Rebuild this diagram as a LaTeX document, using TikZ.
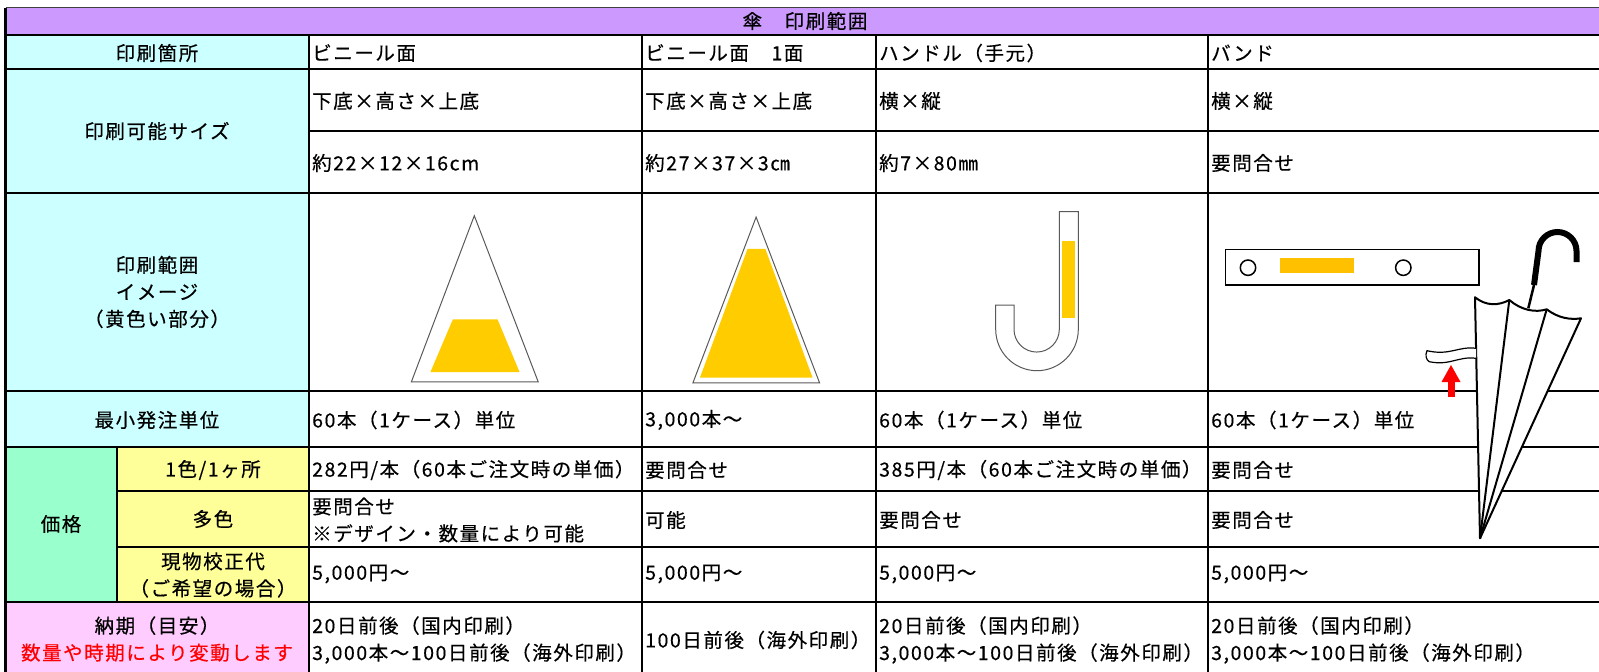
\documentclass[tikz,border=0pt]{standalone}
\usepackage{fontspec}
\newfontfamily\jpfont[LetterSpace=8, FakeBold=0.4]{Noto Sans CJK JP}
\definecolor{titlebg}{HTML}{CC99FF}
\definecolor{headbg}{HTML}{CCFFFF}
\definecolor{pricebg}{HTML}{99FFCC}
\definecolor{subbg}{HTML}{FFFF99}
\definecolor{leadbg}{HTML}{FFCCFF}
\definecolor{printarea}{HTML}{FFCC00}
\definecolor{bandarea}{HTML}{FFC000}
\tikzset{
  grid/.style={line width=2.5pt},
  cell/.style={font=\jpfont\fontsize{19.5}{27}\selectfont, inner sep=0pt, anchor=west, align=left},
  head/.style={font=\jpfont\fontsize{19.5}{27}\selectfont, inner sep=0pt, align=center},
  outline/.style={draw=black!65, line width=1pt},
}
\begin{document}
\begin{tikzpicture}[x=1pt,y=-1pt]
  \useasboundingbox (0,0) rectangle (1599,672);

  % Cell backgrounds
  \fill[titlebg] (5.5,7.5) rectangle (1599,35);
  \fill[headbg] (5.5,35) rectangle (309,447);
  \fill[pricebg] (5.5,447) rectangle (117,602);
  \fill[subbg] (117,447) rectangle (309,602);
  \fill[leadbg] (5.5,602) rectangle (309,672);

  % Grid
  \draw[line width=1.2pt, black!75] (5.5,7.5) -- (1599,7.5);
  \draw[grid] (5.5,7.5) -- (5.5,672);
  \draw[grid] (5.5,35) -- (1599,35);
  \draw[grid] (5.5,69) -- (1599,69);
  \draw[grid] (309,131) -- (1599,131);
  \draw[grid] (5.5,193) -- (1599,193);
  \draw[grid] (5.5,391) -- (1599,391);
  \draw[grid] (5.5,447) -- (1599,447);
  \draw[grid] (117,491) -- (1599,491);
  \draw[grid] (117,547) -- (1599,547);
  \draw[grid] (5.5,602) -- (1599,602);
  \draw[grid] (117,447) -- (117,602);
  \draw[grid] (309,35) -- (309,672);
  \draw[grid] (642,35) -- (642,672);
  \draw[grid] (876,35) -- (876,672);
  \draw[grid] (1208,35) -- (1208,672);

  % Row headings
  \node[head] (title) at (805,21) {傘　印刷範囲};
  \node[head] (h-place) at (157,53) {印刷箇所};
  \node[head] (h-size) at (157,131) {印刷可能サイズ};
  \node[head] (h-image) at (157,292) {印刷範囲\\イメージ\\（黄色い部分）};
  \node[head] (h-moq) at (157,420) {最小発注単位};
  \node[head] (h-price) at (61,524) {価格};
  \node[head] (h-one) at (213,470) {1色/1ヶ所};
  \node[head] (h-multi) at (213,519) {多色};
  \node[head] (h-proof) at (213,575) {現物校正代\\（ご希望の場合）};
  \node[head] (h-lead) at (157,639) {納期（目安）\\\textcolor{red}{数量や時期により変動します}};

  % Column A
  \begin{scope}[shift={(312,0)}]
    \node[cell] (a-place) at (0,53) {ビニール面};
    \node[cell] (a-dim) at (0,101) {下底×高さ×上底};
    \node[cell] (a-size) at (0,163) {約22×12×16cm};
    \node[cell] (a-moq) at (0,420) {60本（1ケース）単位};
    \node[cell] (a-one) at (0,470) {282円/本（60本ご注文時の単価）};
    \node[cell] (a-multi) at (0,520) {要問合せ\\※デザイン・数量により可能};
    \node[cell] (a-proof) at (0,574) {5,000円～};
    \node[cell] (a-lead) at (0,640) {20日前後（国内印刷）\\3,000本～100日前後（海外印刷）};
  \end{scope}

  % Column B
  \begin{scope}[shift={(645,0)}]
    \node[cell] (b-place) at (0,53) {ビニール面　1面};
    \node[cell] (b-dim) at (0,101) {下底×高さ×上底};
    \node[cell] (b-size) at (0,163) {約27×37×3㎝};
    \node[cell] (b-moq) at (0,420) {3,000本～};
    \node[cell] (b-one) at (0,470) {要問合せ};
    \node[cell] (b-multi) at (0,520) {可能};
    \node[cell] (b-proof) at (0,574) {5,000円～};
    \node[cell] (b-lead) at (0,640) {100日前後（海外印刷）};
  \end{scope}

  % Column C
  \begin{scope}[shift={(879,0)}]
    \node[cell] (c-place) at (0,53) {ハンドル（手元）};
    \node[cell] (c-dim) at (0,101) {横×縦};
    \node[cell] (c-size) at (0,163) {約7×80㎜};
    \node[cell] (c-moq) at (0,420) {60本（1ケース）単位};
    \node[cell] (c-one) at (0,470) {385円/本（60本ご注文時の単価）};
    \node[cell] (c-multi) at (0,520) {要問合せ};
    \node[cell] (c-proof) at (0,574) {5,000円～};
    \node[cell] (c-lead) at (0,640) {20日前後（国内印刷）\\3,000本～100日前後（海外印刷）};
  \end{scope}

  % Column D
  \begin{scope}[shift={(1211,0)}]
    \node[cell] (d-place) at (0,53) {バンド};
    \node[cell] (d-dim) at (0,101) {横×縦};
    \node[cell] (d-size) at (0,163) {要問合せ};
    \node[cell] (d-moq) at (0,420) {60本（1ケース）単位};
    \node[cell] (d-one) at (0,470) {要問合せ};
    \node[cell] (d-multi) at (0,520) {要問合せ};
    \node[cell] (d-proof) at (0,574) {5,000円～};
    \node[cell] (d-lead) at (0,640) {20日前後（国内印刷）\\3,000本～100日前後（海外印刷）};
  \end{scope}

  % Vinyl, part
  \draw[outline] (474.3,215.7) -- (411.4,381.8) -- (538.2,381.8) -- cycle;
  \fill[printarea] (452.9,319.3) -- (497.5,319.3) -- (519.6,372.1) -- (430.4,372.1) -- cycle;

  % Vinyl, one face
  \draw[outline] (756.1,217.1) -- (692.9,382.9) -- (819.6,382.9) -- cycle;
  \fill[printarea] (747.5,248.9) -- (765.4,248.9) -- (812.5,377.5) -- (700,377.5) -- cycle;

  % Handle
  \draw[outline, fill=white] (1078.3,211.7) -- (1059.3,211.7) -- (1059.3,329.4)
    arc[start angle=0, end angle=180, radius=22.65] -- (1014,305) -- (995.7,305) -- (995.7,329.4)
    arc[start angle=180, end angle=0, radius=41.3] -- cycle;
  \fill[printarea] (1061.7,240.7) rectangle (1075,318.3);

  % Band
  \draw[line width=1.5pt, fill=white] (1225.7,249.3) rectangle (1479,285);
  \draw[line width=1.5pt] (1248,267.7) circle[radius=7.7];
  \draw[line width=1.5pt] (1403.3,267.7) circle[radius=7.7];
  \fill[bandarea] (1280,258.3) rectangle (1354,273.3);

  % Umbrella
  \draw[line width=2pt, fill=white, line join=round]
    (1475,297.3) .. controls (1486,306) and (1498,306) .. (1509.3,300)
    .. controls (1521,310) and (1535,313) .. (1546.7,309.3)
    .. controls (1558,318) and (1570,320) .. (1581,318.3)
    -- (1480,538.3) -- cycle;
  \draw[line width=2pt] (1509.3,300) -- (1480,538.3);
  \draw[line width=2pt] (1546.7,309.3) -- (1480,538.3);
  \draw[line width=2.5pt] (1528.3,308.3) -- (1534,285);
  \draw[line width=6pt] (1534,285) -- (1538.5,251)
    arc[start angle=180, end angle=360, radius=19] -- (1576.5,262);
  \draw[line width=1.2pt, fill=white] (1476,348.3) .. controls (1458,346) and (1450,356) .. (1427,350.7)
    .. controls (1425,355) and (1426,360) .. (1429.3,361.7)
    .. controls (1450,366) and (1458,356) .. (1476,358.3);
  \fill[red] (1447.5,397) rectangle (1454.5,381);
  \fill[red] (1441.5,382) -- (1451,365) -- (1460.5,382) -- cycle;
\end{tikzpicture}
\end{document}
